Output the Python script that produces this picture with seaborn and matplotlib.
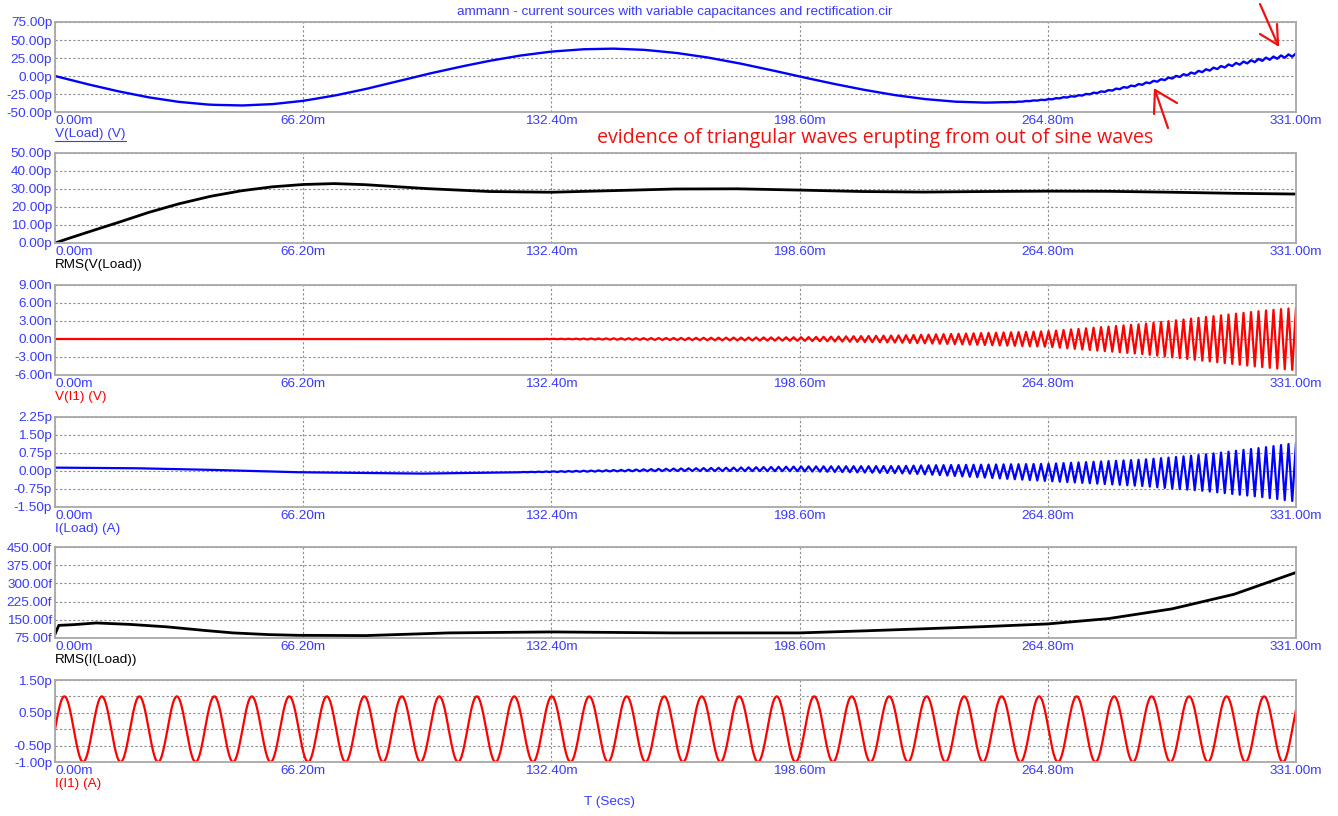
import numpy as np
import matplotlib
matplotlib.use("Agg")
import matplotlib.pyplot as plt
import seaborn as sns
from matplotlib.lines import Line2D

W, H = 1338, 816

# time axis (ms)
x_ticks = [0.0, 66.2, 132.4, 198.6, 264.8, 331.0]
x_tick_labels = ["0.00m", "66.20m", "132.40m", "198.60m", "264.80m", "331.00m"]

# V(Load) slow wave (p), read every 8.275 ms
vload_t = np.arange(41) * 8.275
vload_v = [0.0, -10.9, -20.9, -29.5, -36.0, -39.9, -41.0, -39.1, -34.5, -27.3,
           -18.2, -7.9, 2.7, 12.3, 21.0, 28.4, 33.9, 37.1, 38.0, 36.3,
           32.2, 26.0, 18.1, 9.0, -0.7, -10.0, -18.6, -26.1, -31.9, -35.6,
           -37.0, -36.0, -32.7, -27.3, -20.1, -11.6, -2.4, 7.0, 16.0, 23.5, 29.5]
# small triangular ripple on V(Load) near the end (p)
vload_rip_t = [0, 250, 280, 300, 331]
vload_rip_a = [0.0, 0.0, 0.8, 1.3, 2.0]

# RMS(V(Load)) (p)
rms_v_t = [0, 4, 8, 12, 16.55, 25, 33.1, 41.4, 49.65, 57.9, 66.2, 74.5, 82.75,
           99.3, 115.85, 132.4, 148.95, 165.5, 182.05, 198.6, 215.15, 231.7,
           248.25, 264.8, 281.35, 297.9, 314.45, 331]
rms_v = [0.0, 2.8, 5.5, 8.2, 11.2, 17.0, 21.8, 25.9, 29.0, 31.2, 32.5, 33.0, 32.4,
         30.2, 28.6, 28.2, 29.1, 30.0, 30.1, 29.4, 28.6, 28.3, 28.6, 28.8, 28.7,
         28.2, 27.6, 27.2]

# V(I1) triangular oscillation envelope (n)
vi1_env_t = [0, 127, 150, 198.6, 225, 264.8, 290, 306, 322, 331]
vi1_env = [0.0, 0.0, 0.12, 0.3, 0.6, 1.3, 2.5, 3.6, 4.7, 5.2]

# I(Load) baseline and oscillation envelope (p)
iload_base_t = [0, 20, 38.7, 64, 97, 132.4, 165, 198.6, 231.7, 264.8, 297.9, 331]
iload_base = [0.14, 0.12, 0.06, -0.05, -0.11, -0.03, 0.05, 0.09, 0.05, -0.06, -0.08, -0.05]
iload_env_t = [0, 120, 150, 198.6, 225, 264.8, 290, 306, 322, 331]
iload_env = [0.0, 0.0, 0.03, 0.1, 0.15, 0.36, 0.55, 0.75, 1.03, 1.22]

# RMS(I(Load)) (f)
rms_i_t = [0, 1, 5, 11, 20, 29.8, 40, 47.5, 57, 65, 83, 105, 132.4, 165, 198.6,
           215, 231.7, 248, 264.8, 281, 297.9, 314.45, 331]
rms_i = [90, 127, 130, 137, 131, 121, 106, 96, 89, 86, 85, 96, 100, 96, 96,
         104, 113, 122, 133, 155, 195, 255, 345]

# I(I1) source sine
ii1_amp = 1.0        # p
ii1_freq = 100.0     # Hz
ripple_freq = 500.0  # Hz, the triangular waves

# triangle vertices for the ripple signals
half = 1000.0 / (2 * ripple_freq)
tri_t = np.arange(0, 331.0 + 1e-9, half)
tri_s = np.where(np.arange(len(tri_t)) % 2 == 0, -1.0, 1.0)

p1_y = np.interp(tri_t, vload_t, vload_v) + tri_s * np.interp(tri_t, vload_rip_t, vload_rip_a)
p3_y = tri_s * np.interp(tri_t, vi1_env_t, vi1_env)
p4_y = np.interp(tri_t, iload_base_t, iload_base) + tri_s * np.interp(tri_t, iload_env_t, iload_env)
sin_t = np.linspace(0, 331, 3000)
p6_y = ii1_amp * np.sin(2 * np.pi * ii1_freq * sin_t / 1000.0)

sns.set_style("white")
plt.rcParams["font.family"] = ["Liberation Sans", "DejaVu Sans"]

BLUE_TXT = "#3a3aff"
FS = 9.7
fig = plt.figure(figsize=(W / 100, H / 100), dpi=100)

panels = [
    dict(top=22, bot=112, x=tri_t, y=p1_y, color="#0000ff", lw=1.7,
         yt=[-50, -25, 0, 25, 50, 75], unit="p", label="V(Load) (V)", lc=BLUE_TXT),
    dict(top=153, bot=243, x=rms_v_t, y=rms_v, color="#000000", lw=2.0,
         yt=[0, 10, 20, 30, 40, 50], unit="p", label="RMS(V(Load))", lc="#000000"),
    dict(top=285, bot=375, x=tri_t, y=p3_y, color="#ff0000", lw=1.6,
         yt=[-6, -3, 0, 3, 6, 9], unit="n", label="V(I1) (V)", lc="#ff0000"),
    dict(top=417, bot=507, x=tri_t, y=p4_y, color="#0000ff", lw=1.6,
         yt=[-1.5, -0.75, 0, 0.75, 1.5, 2.25], unit="p", label="I(Load) (A)", lc=BLUE_TXT),
    dict(top=547, bot=638, x=rms_i_t, y=rms_i, color="#000000", lw=2.0,
         yt=[75, 150, 225, 300, 375, 450], unit="f", label="RMS(I(Load))", lc="#000000"),
    dict(top=680, bot=762, x=sin_t, y=p6_y, color="#ff0000", lw=1.6,
         yt=[-1.0, -0.5, 0, 0.5, 1.0, 1.5], unit="p", label="I(I1) (A)", lc="#ff0000",
         hide=[0, 1.0]),
]

label_texts = []
for p in panels:
    ax = fig.add_axes([55 / W, 1 - p["bot"] / H, (1296 - 55) / W, (p["bot"] - p["top"]) / H])
    sns.lineplot(x=np.asarray(p["x"]), y=np.asarray(p["y"]), ax=ax, color=p["color"],
                 linewidth=p["lw"], estimator=None, sort=False)
    ax.set_xlim(0, 331)
    ax.set_ylim(p["yt"][0], p["yt"][-1])
    ax.set_xticks(x_ticks)
    ax.set_xticklabels(x_tick_labels)
    ax.set_yticks(p["yt"])
    ylabs = []
    for v in p["yt"]:
        if v in p.get("hide", []):
            ylabs.append("")
        else:
            ylabs.append(f"{v:.2f}{p['unit']}")
    ax.set_yticklabels(ylabs)
    ax.set_xlabel("")
    ax.set_ylabel("")
    ax.tick_params(axis="both", length=0, labelsize=FS, colors=BLUE_TXT)
    ax.tick_params(axis="x", pad=2)
    ax.tick_params(axis="y", pad=2)
    ax.get_xticklabels()[0].set_ha("left")
    ax.grid(True, color="#8c8c8c", linestyle=(0, (2, 2)), linewidth=0.8)
    ax.set_axisbelow(True)
    for s in ax.spines.values():
        s.set_color("#a8a8a8")
        s.set_linewidth(1.3)
    t = fig.text(55 / W, 1 - (p["bot"] + 22) / H, p["label"], color=p["lc"],
                 fontsize=FS, ha="left", va="center")
    label_texts.append(t)

fig.text(675 / W, 1 - 12 / H,
         "ammann - current sources with variable capacitances and rectification.cir",
         color=BLUE_TXT, fontsize=FS, ha="center", va="center")
fig.text(610 / W, 1 - 802 / H, "T (Secs)", color=BLUE_TXT, fontsize=FS,
         ha="center", va="center")
fig.text(597 / W, 1 - 138 / H,
         "evidence of triangular waves erupting from out of sine waves",
         color="#f01010", fontsize=14.1, family=["Open Sans", "DejaVu Sans"],
         ha="left", va="center")


def px(x, y):
    return x / W, 1 - y / H


# hand drawn arrows
for seg in [((1260, 4), (1278, 45)), ((1278, 45), (1277, 24)), ((1278, 45), (1260, 34)),
            ((1168, 128), (1155, 90)), ((1155, 90), (1154, 114)), ((1155, 90), (1177, 103))]:
    (x0, y0), (x1, y1) = px(*seg[0]), px(*seg[1])
    fig.add_artist(Line2D([x0, x1], [y0, y1], color="#f01010", lw=1.6,
                          transform=fig.transFigure, solid_capstyle="round"))

# underline for the selected curve label
fig.canvas.draw()
bb = label_texts[0].get_window_extent(renderer=fig.canvas.get_renderer())
fig.add_artist(Line2D([bb.x0 / W, bb.x1 / W], [(bb.y0 - 1) / H, (bb.y0 - 1) / H],
                      color=BLUE_TXT, lw=0.8, transform=fig.transFigure))

fig.savefig("out.png", dpi=100)
